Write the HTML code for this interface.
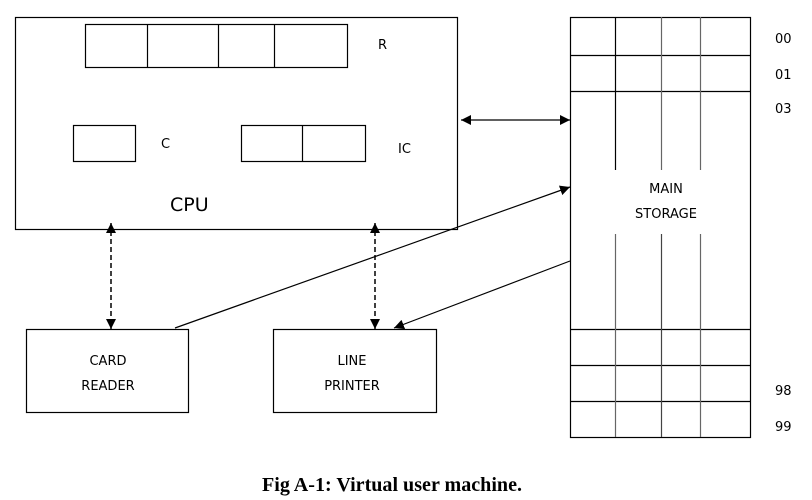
<!DOCTYPE html>
<html><head><style>html,body{margin:0;padding:0;background:#fff;}svg{display:block}</style></head>
<body>
<svg width="812" height="500" viewBox="0 0 812 500" xmlns="http://www.w3.org/2000/svg">
<defs>
<marker id="a" viewBox="0 0 10 10" refX="10" refY="5" markerWidth="10" markerHeight="10" markerUnits="userSpaceOnUse" orient="auto-start-reverse"><path d="M0,0 L10,5 L0,10z" fill="#000"/></marker>
</defs>
<g fill="none" stroke="#000" stroke-width="1.2">
<rect x="15.5" y="17.5" width="442" height="212"/>
<rect x="85.5" y="24.5" width="262" height="43"/>
<line x1="147.5" y1="24" x2="147.5" y2="67"/>
<line x1="218.5" y1="24" x2="218.5" y2="67"/>
<line x1="274.5" y1="24" x2="274.5" y2="67"/>
<rect x="73.5" y="125.5" width="62" height="36"/>
<rect x="241.5" y="125.5" width="124" height="36"/>
<line x1="302.5" y1="125" x2="302.5" y2="161"/>
<rect x="26.5" y="329.5" width="162" height="83"/>
<rect x="273.5" y="329.5" width="163" height="83"/>
<rect x="570.5" y="17.5" width="180" height="420"/>
<line x1="570" y1="55.5" x2="750" y2="55.5"/>
<line x1="570" y1="91.5" x2="750" y2="91.5"/>
<line x1="570" y1="329.5" x2="750" y2="329.5"/>
<line x1="570" y1="365.5" x2="750" y2="365.5"/>
<line x1="570" y1="401.5" x2="750" y2="401.5"/>
<line x1="615.5" y1="17" x2="615.5" y2="170"/>
<line x1="661.5" y1="17" x2="661.5" y2="170" stroke="#666"/>
<line x1="700.5" y1="17" x2="700.5" y2="170" stroke="#666"/>
<line x1="615.5" y1="234" x2="615.5" y2="437" stroke="#666"/>
<line x1="661.5" y1="234" x2="661.5" y2="437" stroke="#444"/>
<line x1="700.5" y1="234" x2="700.5" y2="437" stroke="#666"/>
<line x1="461" y1="120" x2="570" y2="120" marker-start="url(#a)" marker-end="url(#a)"/>
<line x1="111" y1="223" x2="111" y2="329" stroke-dasharray="5,3" stroke-width="1.5" marker-start="url(#a)" marker-end="url(#a)"/>
<line x1="375" y1="223" x2="375" y2="329" stroke-dasharray="5,3" stroke-width="1.5" marker-start="url(#a)" marker-end="url(#a)"/>
<line x1="175" y1="328" x2="570" y2="187" marker-end="url(#a)"/>
<line x1="570" y1="261" x2="394" y2="328" marker-end="url(#a)"/>
</g>
<g font-family="'DejaVu Sans','Liberation Sans',sans-serif" font-size="13" fill="#000">
<text x="378" y="49">R</text>
<text x="161" y="148">C</text>
<text x="398" y="153">IC</text>
<text x="170" y="211" font-size="19">CPU</text>
<text x="108" y="365" text-anchor="middle">CARD</text>
<text x="108" y="390" text-anchor="middle">READER</text>
<text x="352" y="365" text-anchor="middle">LINE</text>
<text x="352" y="390" text-anchor="middle">PRINTER</text>
<text x="666" y="193" text-anchor="middle">MAIN</text>
<text x="666" y="218" text-anchor="middle">STORAGE</text>
<text x="775" y="43">00</text>
<text x="775" y="79">01</text>
<text x="775" y="113">03</text>
<text x="775" y="395">98</text>
<text x="775" y="431">99</text>
</g>
<text x="392" y="491" text-anchor="middle" font-family="'Liberation Serif',serif" font-weight="bold" font-size="20" textLength="260" lengthAdjust="spacingAndGlyphs">Fig A-1: Virtual user machine.</text>
</svg>
</body></html>
